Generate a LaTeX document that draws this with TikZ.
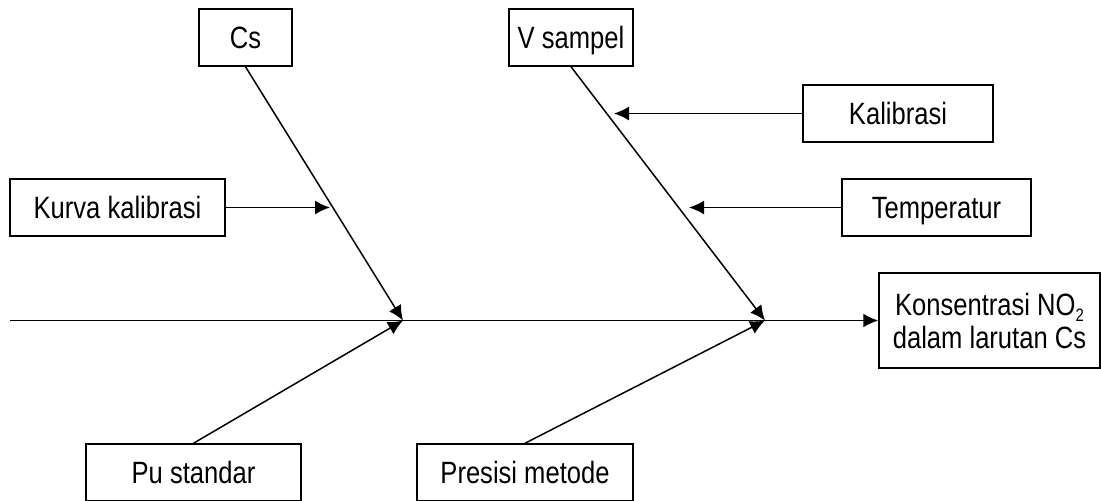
\documentclass[tikz,border=0pt]{standalone}
\usepackage{fontspec}
\setmainfont[FakeStretch=0.83]{Liberation Sans}
\usetikzlibrary{arrows.meta}

% one drawing unit = 0.5pt; node sizes below are given in pt
\tikzset{
  cause/.style={draw, line width=0.75pt, inner sep=0pt, minimum height=28.5pt,
    text height=11pt, text depth=0pt, font=\fontsize{15.4}{17}\selectfont},
  effect/.style={draw, line width=0.75pt, inner sep=0pt, align=center,
    font=\fontsize{15.4}{16.5}\selectfont},
  bone/.style={line width=0.75pt, -{Latex[length=7.5pt,width=7pt]}},
  spine/.style={line width=0.9pt, -{Latex[length=7.5pt,width=7pt]}}
}

\begin{document}
\begin{tikzpicture}[x=0.5pt, y=-0.5pt]
  \useasboundingbox (0,0) rectangle (1101,500);

  % cause boxes
  \node[cause, minimum width=46.5pt] (cs)  at (245.5,37.5)  {Cs};
  \node[cause, minimum width=62pt]   (vs)  at (571,37.5)    {V sampel};
  \node[cause, minimum width=95pt]   (kal) at (898,113.5)   {Kalibrasi};
  \node[cause, minimum width=94.5pt] (tmp) at (936.5,207.5) {Temperatur};
  \node[cause, minimum width=107.5pt] (kur) at (117.5,207.5) {Kurva kalibrasi};
  \node[cause, minimum width=107.5pt] (pu)  at (193.5,472.5) {Pu standar};
  \node[cause, minimum width=108pt]  (pr)  at (525,472.5)   {Presisi metode};

  % effect box
  \node[effect, minimum width=110.5pt, minimum height=47.5pt] (ks) at (989.5,320.5)
    {Konsentrasi NO\raisebox{-3pt}{\fontsize{9}{9}\selectfont 2}\\dalam larutan Cs};

  % junctions on the spine and free ends
  \coordinate (start) at (10,320.5);
  \coordinate (j1) at (403,320.5);
  \coordinate (j2) at (765,320.5);
  \coordinate (t1) at (330,207.5);
  \coordinate (t2) at (614,113.5);
  \coordinate (t3) at (689,207.5);

  % spine
  \draw[spine] (start) -- (ks.west);

  % main bones
  \draw[bone] (cs.south) -- (j1);
  \draw[bone] (pu.north) -- (j1);
  \draw[bone] (vs.south) -- (j2);
  \draw[bone] (pr.north) -- (j2);

  % sub-causes
  \draw[bone] (kur.east) -- (t1);
  \draw[bone] (kal.west) -- (t2);
  \draw[bone] (tmp.west) -- (t3);
\end{tikzpicture}
\end{document}
